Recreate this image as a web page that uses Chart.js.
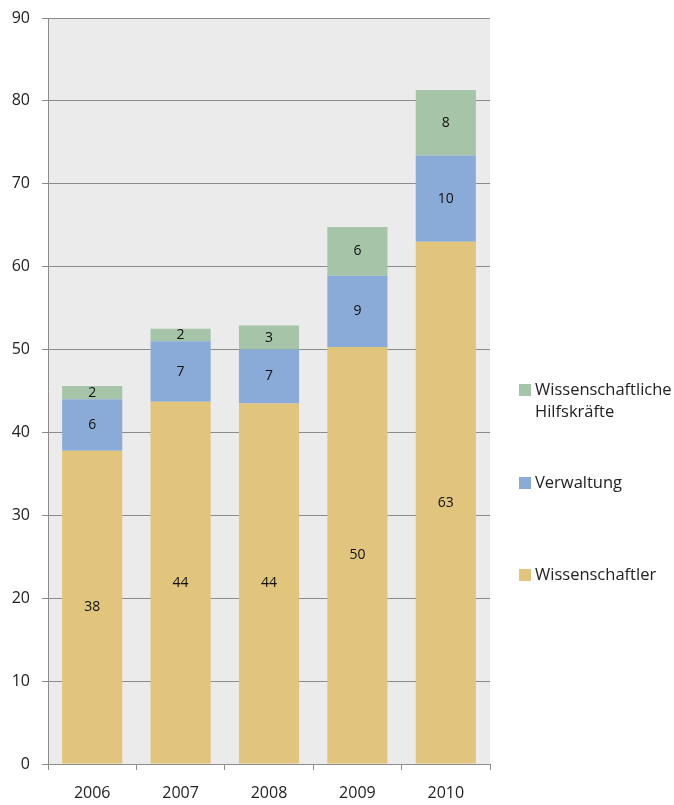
<!DOCTYPE html>
<html>
<head>
<meta charset="utf-8">
<script src="https://cdn.jsdelivr.net/npm/chart.js@4/dist/chart.umd.min.js"></script>
<style>
    body { margin: 0; background: #fff; }
    #wrap { position: relative; width: 674px; height: 805px; }
    #legend { position: absolute; left: 519px; top: 0; font-family: "Open Sans", sans-serif; font-size: 16.5px; color: #222; }
    .item { position: absolute; left: 0; white-space: nowrap; }
    .box { position: absolute; left: 0; width: 12px; height: 12px; }
    .txt { position: absolute; left: 16px; line-height: 22px; }
</style>
</head>
<body>
<div id="wrap">
    <canvas id="staffChart" width="674" height="805"></canvas>
    <div id="legend"></div>
</div>
<script>
// Chart data
const years = ['2006', '2007', '2008', '2009', '2010'];
const wissenschaftler = [37.8, 43.7, 43.5, 50.3, 63.0];
const verwaltung = [6.2, 7.3, 6.5, 8.6, 10.4];
const hilfskraefte = [1.6, 1.5, 2.9, 5.9, 7.9];
const yTicks = [0, 10, 20, 30, 40, 50, 60, 70, 80, 90];

const font = '"Open Sans", sans-serif';

// Gray plot background
const plotBackground = {
    id: 'plotBackground',
    beforeDraw(chart) {
        const { ctx, chartArea } = chart;
        ctx.save();
        ctx.fillStyle = '#ebebeb';
        ctx.fillRect(chartArea.left, chartArea.top, chartArea.right - chartArea.left, chartArea.bottom - chartArea.top);
        ctx.restore();
    }
};

// Rounded values in the middle of each segment
const segmentLabels = {
    id: 'segmentLabels',
    afterDatasetsDraw(chart) {
        const ctx = chart.ctx;
        ctx.save();
        ctx.font = '14px ' + font;
        ctx.fillStyle = '#111';
        ctx.textAlign = 'center';
        ctx.textBaseline = 'middle';
        chart.data.datasets.forEach((ds, i) => {
            chart.getDatasetMeta(i).data.forEach((bar, j) => {
                ctx.fillText(Math.round(ds.data[j]), bar.x, (bar.y + bar.base) / 2);
            });
        });
        ctx.restore();
    }
};

const ctx = document.getElementById('staffChart').getContext('2d');
const chart = new Chart(ctx, {
    type: 'bar',
    data: {
        labels: years,
        datasets: [
            { label: 'Wissenschaftler', data: wissenschaftler, backgroundColor: '#e1c57c' },
            { label: 'Verwaltung', data: verwaltung, backgroundColor: '#8aaad8' },
            { label: 'Wissenschaftliche Hilfskräfte', data: hilfskraefte, backgroundColor: '#a6c4a8' }
        ]
    },
    options: {
        responsive: false,
        animation: false,
        layout: { padding: { top: 18, right: 184, left: 0, bottom: 0 } },
        categoryPercentage: 0.68,
        barPercentage: 1,
        plugins: {
            legend: { display: false },
            tooltip: { enabled: false }
        },
        scales: {
            x: {
                stacked: true,
                grid: { drawOnChartArea: false, drawTicks: true, tickLength: 6, color: '#8c8c8c' },
                border: { color: '#8c8c8c' },
                ticks: { font: { family: font, size: 16 }, color: '#222', padding: 14 },
                afterFit(scale) { scale.height = 41; }
            },
            y: {
                stacked: true,
                min: 0,
                max: 90,
                afterBuildTicks(scale) { scale.ticks = yTicks.map(v => ({ value: v })); },
                grid: { color: '#8c8c8c', tickLength: 6 },
                border: { color: '#8c8c8c' },
                ticks: { font: { family: font, size: 16, lineHeight: 1 }, color: '#222', padding: 12 },
                afterFit(scale) { scale.width = 48; scale.paddingTop = 0; }
            }
        }
    },
    plugins: [plotBackground, segmentLabels]
});

// HTML legend, top entry first
const legendTop = { 'Wissenschaftliche Hilfskräfte': 384, 'Verwaltung': 477, 'Wissenschaftler': 569 };
const legendText = { 'Wissenschaftliche Hilfskräfte': 'Wissenschaftliche<br>Hilfskräfte' };
const legend = document.getElementById('legend');
chart.data.datasets.slice().reverse().forEach(ds => {
    const item = document.createElement('div');
    item.className = 'item';
    item.style.top = legendTop[ds.label] + 'px';
    item.innerHTML = '<span class="box" style="background:' + ds.backgroundColor + '"></span>' +
        '<span class="txt" style="top:-6px">' + (legendText[ds.label] || ds.label) + '</span>';
    legend.appendChild(item);
});
</script>
</body>
</html>
